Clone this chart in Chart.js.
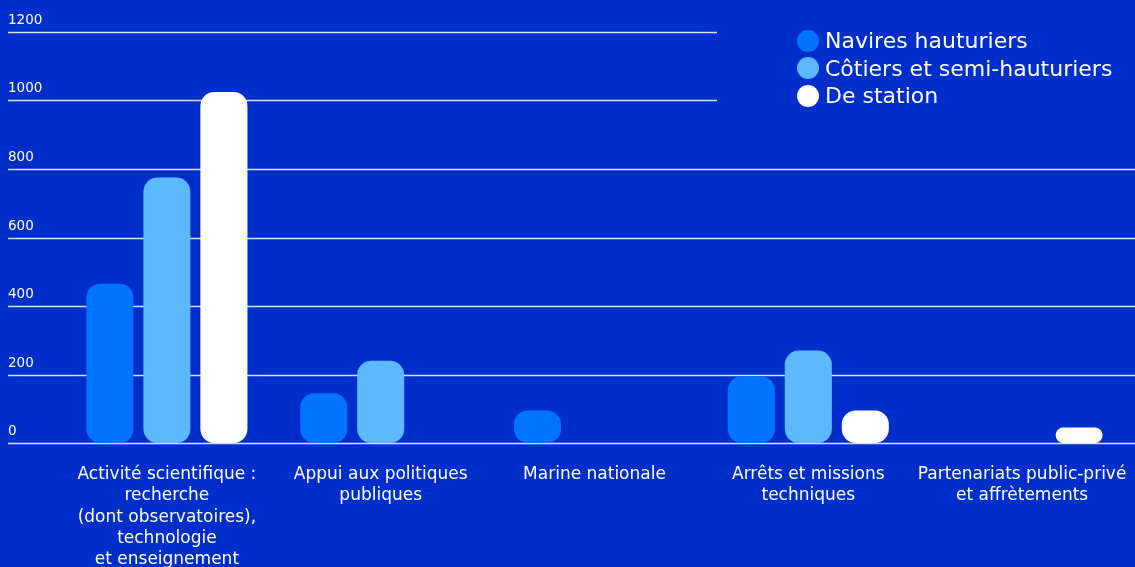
<!DOCTYPE html>
<html>
<head>
<meta charset="utf-8">
<script src="https://cdn.jsdelivr.net/npm/chart.js@4"></script>
<style>
  html, body { margin: 0; padding: 0; background: #002ECB; }
  #wrap { position: relative; width: 1135px; height: 567px; }
  #legend { position: absolute; left: 797px; top: 27px; font-family: "DejaVu Sans", sans-serif; font-size: 22px; color: #fff; }
  #legend div { display: flex; align-items: center; height: 27.5px; }
  #legend span.dot { width: 22px; height: 22px; border-radius: 50%; margin-right: 6px; display: inline-block; }
</style>
</head>
<body>
<div id="wrap">
  <canvas id="bar-chart" width="1135" height="567"></canvas>
  <div id="legend"></div>
</div>
<script>
const categories = [
  ["Activité scientifique :", "recherche", "(dont observatoires),", "technologie", "et enseignement"],
  ["Appui aux politiques", "publiques"],
  ["Marine nationale"],
  ["Arrêts et missions", "techniques"],
  ["Partenariats public-privé", "et affrètements"]
];
const seriesNames = ["Navires hauturiers", "Côtiers et semi-hauturiers", "De station"];
const hauturiers = [465, 145, 95, 195, null];
const cotiers = [775, 240, null, 270, null];
const station = [1025, null, null, 95, 45];
const yTicks = [0, 200, 400, 600, 800, 1000, 1200];
const colors = ["#0073FF", "#5DB9FF", "#FFFFFF"];

// grid lines + tick labels above each line, spanning the whole width
const gridPlugin = {
  id: 'customGrid',
  beforeDatasetsDraw(chart) {
    const ctx = chart.ctx;
    const y = chart.scales.y;
    ctx.save();
    yTicks.forEach(v => {
      const py = Math.round(y.getPixelForValue(v)) + 0.5;
      const x2 = v >= 1000 ? 717 : 1135;
      ctx.strokeStyle = 'rgba(255,255,255,0.85)';
      ctx.lineWidth = 1.5;
      ctx.beginPath();
      ctx.moveTo(8, py);
      ctx.lineTo(x2, py);
      ctx.stroke();
      ctx.fillStyle = '#fff';
      ctx.font = '13.5px "DejaVu Sans", sans-serif';
      ctx.textBaseline = 'alphabetic';
      ctx.fillText(String(v), 8, py - 8.5);
    });
    ctx.restore();
  }
};

const datasets = [hauturiers, cotiers, station].map((d, i) => ({
  label: seriesNames[i],
  data: d,
  backgroundColor: colors[i],
  borderRadius: 14,
  borderSkipped: false,
  categoryPercentage: 0.80,
  barPercentage: 0.825
}));

const chart = new Chart(document.getElementById("bar-chart"), {
  type: 'bar',
  data: { labels: categories, datasets: datasets },
  options: {
    responsive: false,
    animation: false,
    layout: { padding: { left: 60, right: 6, top: 32, bottom: 0 } },
    plugins: { legend: { display: false }, tooltip: { enabled: false } },
    scales: {
      x: {
        grid: { display: false, drawTicks: false },
        border: { display: false },
        afterFit: s => { s.height = 124; s.paddingLeft = 0; s.paddingRight = 0; },
        ticks: {
          color: '#fff',
          font: { family: '"DejaVu Sans", sans-serif', size: 17, lineHeight: 1.25 },
          padding: 21,
          maxRotation: 0,
          autoSkip: false
        }
      },
      y: { display: false, min: 0, max: 1200, ticks: { stepSize: 200 } }
    }
  },
  plugins: [gridPlugin]
});

const legend = document.getElementById('legend');
chart.data.datasets.forEach(ds => {
  const row = document.createElement('div');
  const dot = document.createElement('span');
  dot.className = 'dot';
  dot.style.background = ds.backgroundColor;
  row.appendChild(dot);
  row.appendChild(document.createTextNode(ds.label));
  legend.appendChild(row);
});
</script>
</body>
</html>
